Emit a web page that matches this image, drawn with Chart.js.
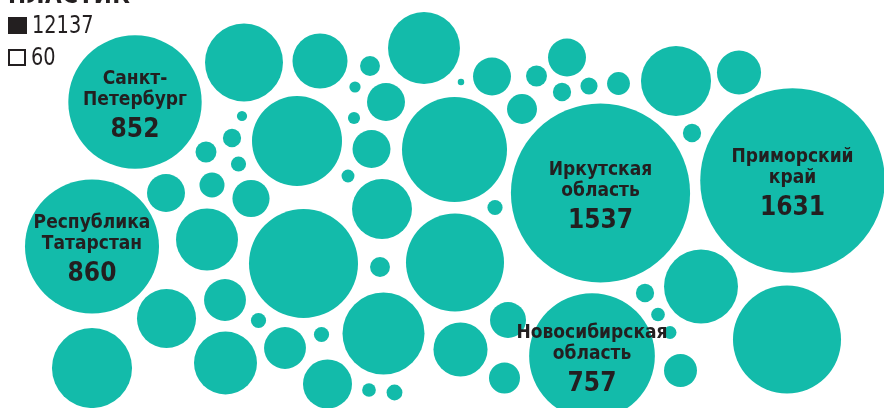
<!DOCTYPE html>
<html>
<head>
<meta charset="utf-8">
<script src="https://cdn.jsdelivr.net/npm/chart.js@4.4.1/dist/chart.umd.min.js"></script>
<style>
  body { margin: 0; background: #fff; }
  #wrap { position: relative; width: 884px; height: 408px; overflow: hidden; }
  .title { position: absolute; left: 8px; top: -19px; font: bold 24px "DejaVu Sans Condensed", sans-serif; color: #231f20; letter-spacing: 0.5px; }
  .leg { position: absolute; left: 8px; font: 25px "DejaVu Sans Condensed", sans-serif; color: #231f20; line-height: 25px; }
  .leg span { display: inline-block; transform: scaleX(0.86); transform-origin: left center; }
  .leg i { display: inline-block; width: 19px; height: 17px; margin-right: 5px; vertical-align: -1px; box-sizing: border-box; }
</style>
</head>
<body>
<div id="wrap">
  <canvas id="bubbles"></canvas>
  <div class="title">ПЛАСТИК</div>
  <div class="leg" style="top:12px"><i style="background:#231f20"></i><span>12137</span></div>
  <div class="leg" style="top:44px"><i style="border:2px solid #231f20;width:18px"></i><span>60</span></div>
</div>
<script>
// tonnes per region (60 regions, 12137 total)
var values = [852, 291, 145, 19, 248, 6, 69, 5, 388, 7,
  16, 21, 11, 69, 8, 528, 860, 69, 30, 66,
  172, 69, 2, 21, 69, 43, 16, 14, 25, 235,
  93, 16, 1537, 1631, 11, 184, 569, 19, 460, 84,
  167, 11, 84, 11, 322, 140, 307, 190, 115, 9,
  12, 62, 46, 757, 16, 9, 8, 52, 262, 559];

// packed layout of the bubbles
var layoutX = [135, 244, 320, 370, 424, 355, 386, 242, 297, 354,
  232, 206, 238.5, 371.5, 348, 454.5, 92, 166, 212, 251,
  382, 492, 461, 536.5, 567, 522, 562, 589, 618.5, 676,
  739, 692, 600.5, 792.5, 495, 207, 303.5, 380, 455, 225,
  166.5, 258.5, 285, 321.5, 383.5, 460.5, 92, 225.5, 327.5, 369,
  394.5, 508, 504.5, 592, 645, 658, 670, 680.5, 701, 787];
var layoutY = [102, 62.5, 61, 66, 48, 87, 102, 116, 141, 118,
  138, 152, 164, 149, 176, 149.5, 246.5, 193, 185, 198.5,
  209, 76.5, 82, 76, 57.5, 109, 92, 86, 83.5, 81,
  72.5, 133, 193, 180.5, 207.5, 239.5, 263.5, 267, 262.5, 300,
  318.5, 320.5, 348, 334.5, 333.5, 349.5, 368, 363, 384, 390,
  392.5, 320, 378, 356, 293, 314.5, 332.5, 370.5, 286.5, 339.5];

// names shown on the big bubbles (index -> lines)
var names = {
  0: ["Санкт-", "Петербург"],
  16: ["Республика", "Татарстан"],
  32: ["Иркутская", "область"],
  33: ["Приморский", "край"],
  53: ["Новосибирская", "область"]
};

var K = 2.285; // px per sqrt(tonne)

var labelPlugin = {
  id: "bubbleLabels",
  afterDatasetsDraw: function (chart) {
    var c = chart.ctx;
    var xs = chart.scales.x, ys = chart.scales.y;
    c.save();
    c.fillStyle = "#231f20";
    c.textAlign = "center";
    c.textBaseline = "middle";
    Object.keys(names).forEach(function (k) {
      var i = +k;
      var cx = xs.getPixelForValue(layoutX[i]);
      var cy = ys.getPixelForValue(layoutY[i]);
      c.font = "bold 19px 'DejaVu Sans Condensed', sans-serif";
      c.fillText(names[k][0], cx, cy - 23);
      c.fillText(names[k][1], cx, cy - 2);
      c.font = "bold 26px 'DejaVu Sans Condensed', sans-serif";
      c.fillText(values[i], cx, cy + 28);
    });
    c.restore();
  }
};

new Chart(document.getElementById("bubbles"), {
  type: "bubble",
  data: {
    datasets: [{
      data: values.map(function (v, i) {
        return { x: layoutX[i], y: layoutY[i], r: K * Math.sqrt(v) };
      }),
      backgroundColor: "#13bbaa",
      borderWidth: 0,
      hoverBorderWidth: 0,
      clip: false
    }]
  },
  options: {
    responsive: true,
    maintainAspectRatio: false,
    animation: false,
    layout: { padding: 0, autoPadding: false },
    plugins: { legend: { display: false }, tooltip: { enabled: false } },
    scales: {
      x: { type: "linear", display: false, min: 0, max: 884 },
      y: { type: "linear", display: false, min: 0, max: 408, reverse: true }
    }
  },
  plugins: [labelPlugin]
});
</script>
</body>
</html>
